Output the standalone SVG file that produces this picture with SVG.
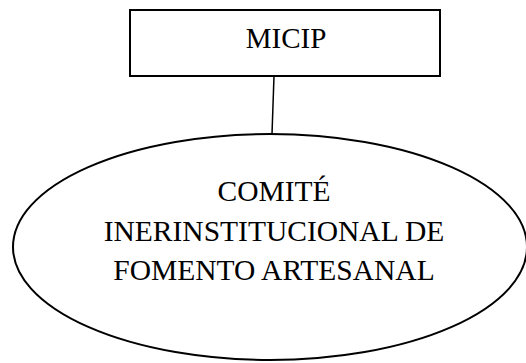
<svg xmlns="http://www.w3.org/2000/svg" width="526" height="363" viewBox="0 0 526 363">
<style>
.shape{fill:#fff;stroke:#000;stroke-width:2}
.lbl{font-family:"Liberation Serif","Times New Roman",serif;fill:#000;text-anchor:middle}
.big{font-size:29px}
.el{font-size:29.5px}
</style>
<rect width="526" height="363" fill="#fff"/>
<g id="connectors">
<line x1="274" y1="76" x2="272" y2="134" stroke="#000" stroke-width="1.5"/>
</g>
<g id="micip">
<rect class="shape" x="130" y="10" width="310" height="66"/>
<text class="lbl big" x="286" y="48">MICIP</text>
</g>
<g id="comite">
<ellipse class="shape" cx="270" cy="247" rx="257" ry="113"/>
<text class="lbl el" x="274" y="201">COMITÉ</text>
<text class="lbl el" x="274" y="241">INERINSTITUCIONAL DE</text>
<text class="lbl el" x="274" y="280">FOMENTO ARTESANAL</text>
</g>
</svg>
